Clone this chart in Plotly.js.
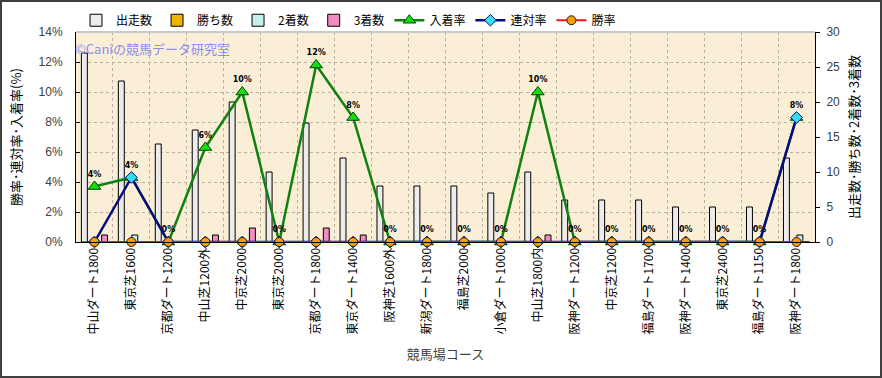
<!DOCTYPE html>
<html>
<head>
<meta charset="utf-8">
<script src="https://cdn.plot.ly/plotly-3.0.1.min.js"></script>
<style>
html,body{margin:0;padding:0;background:#fff;}
#frame{width:882px;height:378px;box-sizing:border-box;border:2px solid #404040;}
#chart{width:878px;height:374px;}
</style>
</head>
<body>
<div id="frame"><div id="chart"></div></div>
<script>
var categories = ["中山ダート1800","東京芝1600","京都ダート1200","中山芝1200外","中京芝2000","東京芝2000","京都ダート1800","東京ダート1400","阪神芝1600外","新潟ダート1800","福島芝2000","小倉ダート1000","中山芝1800内","阪神ダート1200","中京芝1200","福島ダート1700","阪神ダート1400","東京芝2400","福島ダート1150","阪神ダート1800"];
var starts  = [27,23,14,16,20,10,17,12,8,8,8,7,10,6,6,6,5,5,5,12];
var wins    = [0,0,0,0,0,0,0,0,0,0,0,0,0,0,0,0,0,0,0,0];
var seconds = [0,1,0,0,0,0,0,0,0,0,0,0,0,0,0,0,0,0,0,1];
var thirds  = [1,0,0,1,2,0,2,1,0,0,0,0,1,0,0,0,0,0,0,0];
var placeRate = [0.037,0.043,0,0.063,0.10,0,0.118,0.083,0,0,0,0,0.10,0,0,0,0,0,0,0.083];
var rentaiRate = [0,0.043,0,0,0,0,0,0,0,0,0,0,0,0,0,0,0,0,0,0.083];
var winRate = [0,0,0,0,0,0,0,0,0,0,0,0,0,0,0,0,0,0,0,0];
var placeLabels = ["4%","4%","0%","6%","10%","0%","12%","8%","0%","0%","0%","0%","10%","0%","0%","0%","0%","0%","0%","8%"];

var JP = '"Noto Sans CJK JP", "Noto Sans", sans-serif';

function barTrace(name, y, color){
  return {type:'bar', name:name, x:categories, y:y, yaxis:'y',
    marker:{color:color, line:{color:'#000', width:1}}};
}

var traces = [
  barTrace('出走数', starts, '#ececec'),
  barTrace('勝ち数', wins, '#f0b400'),
  barTrace('2着数', seconds, '#c6eeee'),
  barTrace('3着数', thirds, '#f08cc0'),
  {type:'scatter', mode:'lines+markers+text', name:'入着率', x:categories, y:placeRate, yaxis:'y2',
    line:{color:'#108010', width:2.5},
    marker:{symbol:'triangle-up', size:11, color:'#10e010', line:{color:'#004000', width:1}},
    text:placeLabels, textposition:'top center',
    textfont:{family:'"DejaVu Sans", sans-serif', size:8, color:'#000', weight:'bold'},
    cliponaxis:false},
  {type:'scatter', mode:'lines+markers', name:'連対率', x:categories, y:rentaiRate, yaxis:'y2',
    line:{color:'#0a0a80', width:2.5},
    marker:{symbol:'diamond', size:9, color:'#30e0f0', line:{color:'#0a0a80', width:1}},
    cliponaxis:false},
  {type:'scatter', mode:'lines+markers', name:'勝率', x:categories, y:winRate, yaxis:'y2',
    line:{color:'#ff1010', width:2},
    marker:{symbol:'circle', size:9, color:'#ff9a00', line:{color:'#202020', width:1}},
    cliponaxis:false}
];

var layout = {
  width:878, height:374,
  margin:{l:74, r:65, t:30, b:134, autoexpand:false},
  paper_bgcolor:'#ffffff',
  plot_bgcolor:'#faefd6',
  font:{family:JP, size:12, color:'#000'},
  barmode:'group', bargap:0.27, bargroupgap:0.12,
  showlegend:true,
  legend:{orientation:'h', x:0, xanchor:'left', xref:'paper', y:0.99, yref:'container', yanchor:'top',
    font:{family:JP, size:12, color:'#000'}, bgcolor:'rgba(0,0,0,0)', traceorder:'normal',
    itemwidth:30, tracegroupgap:0},
  xaxis:{type:'category', range:[-0.5, categories.length - 0.5], tickangle:-90, tickson:'boundaries',
    showgrid:true, automargin:false,
    gridcolor:'#b8b0a0', griddash:'dot', gridwidth:1, ticks:'',
    showline:true, linecolor:'#000', linewidth:1,
    tickfont:{family:JP, size:12, color:'#000'},
    title:{text:'競馬場コース', font:{family:JP, size:13, color:'#404040'}, standoff:16}},
  yaxis:{side:'right', range:[0,30], dtick:5, showgrid:false, zeroline:false, automargin:false,
    showline:true, linecolor:'#000', linewidth:1, ticks:'outside', ticklen:4, tickcolor:'#000',
    tickfont:{family:'"Liberation Sans", Arial, sans-serif', size:12, color:'#404040'},
    ticklabelstandoff:4,
    title:{text:'出走数･勝ち数･2着数･3着数', font:{family:JP, size:13, color:'#000'}, standoff:10}},
  yaxis2:{overlaying:'y', side:'left', range:[0,0.14], dtick:0.02, tickformat:'.0%', automargin:false,
    showgrid:true, gridcolor:'#b8b0a0', griddash:'dot', gridwidth:1, zeroline:false,
    showline:true, linecolor:'#000', linewidth:1, ticks:'inside', ticklen:4, tickcolor:'#000',
    tickfont:{family:'"Liberation Sans", Arial, sans-serif', size:12, color:'#404040'},
    ticklabelstandoff:10,
    title:{text:'勝率･連対率･入着率(%)', font:{family:JP, size:13, color:'#000'}, standoff:14}},
  shapes:[{type:'line', xref:'paper', yref:'paper', x0:0, x1:1, y0:1, y1:1,
    line:{color:'#c8c8c8', width:2}}],
  annotations:[{xref:'paper', yref:'paper', x:0, y:1, xanchor:'left', yanchor:'top',
    xshift:-3, yshift:-5, showarrow:false, text:'©Caniの競馬データ研究室',
    font:{family:JP, size:13, color:'#8c8cf0'}}]
};

Plotly.newPlot('chart', traces, layout, {displayModeBar:false, staticPlot:true});
</script>
</body>
</html>
